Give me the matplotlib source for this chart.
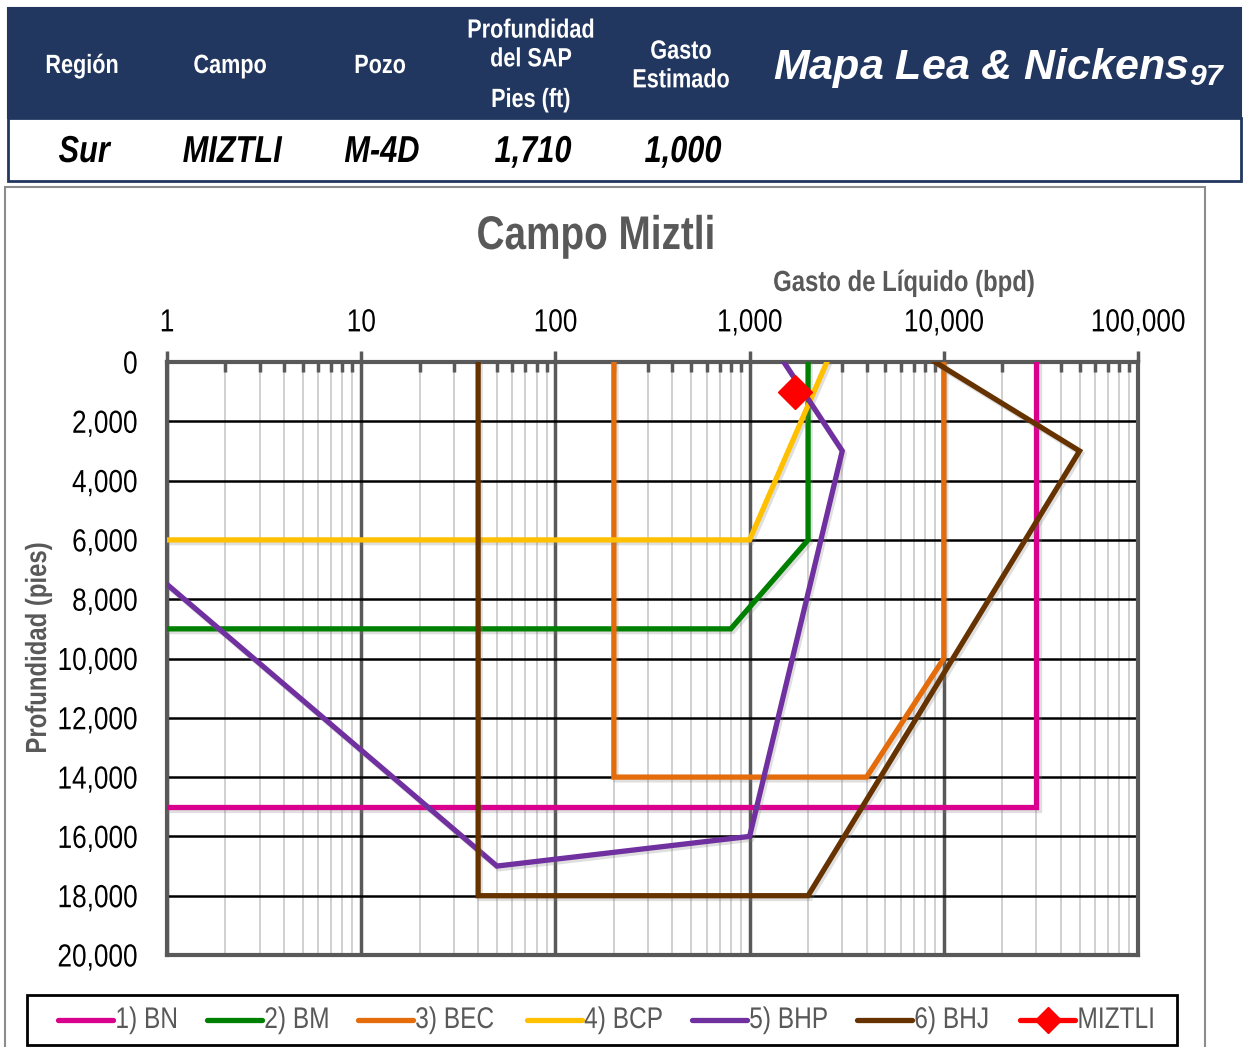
import matplotlib.pyplot as plt
import matplotlib.patheffects as pe
from matplotlib.lines import Line2D
from matplotlib.patches import Rectangle
from matplotlib.transforms import Affine2D, Bbox
from matplotlib.ticker import FixedLocator, LogLocator, NullFormatter

plt.rcParams['font.family'] = ['Liberation Sans', 'DejaVu Sans']

# datos del pozo
header_cols = ['Región', 'Campo', 'Pozo', 'Profundidad\ndel SAP', 'Gasto\nEstimado']
header_unit = 'Pies (ft)'
header_vals = ['Sur', 'MIZTLI', 'M-4D', '1,710', '1,000']

# curvas del mapa de selección (gasto bpd, profundidad pies)
bn_q = [1, 30000, 30000]
bn_d = [15000, 15000, 0]
bm_q = [1, 800, 2000, 2000]
bm_d = [9000, 9000, 6000, 0]
bec_q = [200, 200, 4000, 10000, 10000]
bec_d = [0, 14000, 14000, 10000, 0]
bcp_q = [1, 1000, 2500]
bcp_d = [6000, 6000, 0]
bhp_q = [1, 50, 1000, 3000, 1500]
bhp_d = [7500, 17000, 16000, 3000, 0]
bhj_q = [40, 40, 2000, 50000, 9000]
bhj_d = [0, 18000, 18000, 3000, 0]
pozo_q = [1710]
pozo_d = [1000]

series = [
    ('1) BN', bn_q, bn_d, '#D9008D'),
    ('2) BM', bm_q, bm_d, '#008000'),
    ('3) BEC', bec_q, bec_d, '#E46C0A'),
    ('4) BCP', bcp_q, bcp_d, '#FFC000'),
    ('5) BHP', bhp_q, bhp_d, '#7030A0'),
    ('6) BHJ', bhj_q, bhj_d, '#663300'),
]

x_ticks = [1, 10, 100, 1000, 10000, 100000]
x_labels = ['1', '10', '100', '1,000', '10,000', '100,000']
y_ticks = list(range(0, 20001, 2000))
y_labels = ['{:,}'.format(v) for v in y_ticks]

SX = 0.82  # ancho relativo de la fuente condensada


def _pivot(a0, a1, anchor):
    if anchor == 'left':
        return a0
    if anchor == 'right':
        return a1
    return (a0 + a1) / 2


class Narrow(pe.AbstractPathEffect):
    """Comprime el texto a lo ancho (efecto de fuente condensada)."""

    def __init__(self, sx=SX, anchor='center', vertical=False):
        super().__init__()
        self.sx = sx
        self.anchor = anchor
        self.vertical = vertical

    def draw_path(self, renderer, gc, tpath, affine, rgbFace=None):
        bb = tpath.get_extents(affine)
        if self.vertical:
            c = (bb.y0 + bb.y1) / 2
            extra = Affine2D().translate(0, -c).scale(1, self.sx).translate(0, c)
        else:
            c = _pivot(bb.x0, bb.x1, self.anchor)
            extra = Affine2D().translate(-c, 0).scale(self.sx, 1).translate(c, 0)
        renderer.draw_path(gc, tpath, affine + extra, rgbFace)


def narrow(txt, anchor='center', vertical=False):
    """Aplica el efecto condensado y ajusta la caja del texto a lo dibujado."""
    txt.set_path_effects([Narrow(anchor=anchor, vertical=vertical)])
    orig = txt.get_window_extent

    def extent(renderer=None, dpi=None):
        bb = orig(renderer, dpi)
        if vertical:
            c = (bb.y0 + bb.y1) / 2
            h = (bb.y1 - bb.y0) * SX / 2
            return Bbox([[bb.x0, c - h], [bb.x1, c + h]])
        c = _pivot(bb.x0, bb.x1, anchor)
        return Bbox([[c - (c - bb.x0) * SX, bb.y0], [c + (bb.x1 - c) * SX, bb.y1]])

    txt.get_window_extent = extent
    return txt


W, H = 1243, 1047
fig = plt.figure(figsize=(W / 100, H / 100), dpi=100)

navy = '#22375F'
gray = '#595959'


def fx(px):
    return px / W


def fy(py):
    return 1 - py / H


# tabla de encabezado
fig.patches.append(Rectangle((fx(8), fy(118)), fx(1233), 110 / H, transform=fig.transFigure,
                             facecolor=navy, edgecolor=navy, lw=1.5))
fig.patches.append(Rectangle((fx(8), fy(181)), fx(1233), 63 / H, transform=fig.transFigure,
                             facecolor='white', edgecolor=navy, lw=2))

col_x = [82, 230, 380, 531, 681]
col_y = [66, 66, 66, 45, 66]
for cx, cy, txt in zip(col_x, col_y, header_cols):
    narrow(fig.text(fx(cx), fy(cy), txt, color='white', fontsize=19, weight='bold',
                    ha='center', va='center', linespacing=1.25))
narrow(fig.text(fx(col_x[3]), fy(100), header_unit, color='white', fontsize=19, weight='bold',
                ha='center', va='center'))
for cx, val in zip(col_x, header_vals):
    narrow(fig.text(fx(cx + 2), fy(152), val, color='black', fontsize=27, weight='bold',
                    style='italic', ha='center', va='center'))

fig.text(fx(773), fy(68), r'Mapa Lea & Nickens$_{\mathregular{97}}$', color='white', fontsize=31,
         style='italic', weight='bold', ha='left', va='center')

# marco del gráfico
fig.patches.append(Rectangle((fx(5), fy(1060)), fx(1200), 873 / H, transform=fig.transFigure,
                             facecolor='none', edgecolor='#8C8C8C', lw=1.5))

narrow(fig.text(fx(596), fy(237), 'Campo Miztli', color=gray, fontsize=34, weight='bold',
                ha='center', va='center'))
narrow(fig.text(fx(904), fy(283), 'Gasto de Líquido (bpd)', color=gray, fontsize=21,
                weight='bold', ha='center', va='center'))
narrow(fig.text(fx(38), fy(648), 'Profundidad (pies)', color=gray, fontsize=21, weight='bold',
                ha='center', va='center', rotation=90), vertical=True)

ax = fig.add_axes([fx(167), fy(955), fx(1138 - 167), (955 - 362) / H])
ax.set_xscale('log')
ax.set_xlim(1, 100000)
ax.set_ylim(20000, 0)

shadow = [pe.SimpleLineShadow(offset=(1.5, -2), shadow_color='gray', alpha=0.25), pe.Normal()]
for name, q, d, c in series:
    ax.plot(q, d, color=c, lw=3.8, solid_joinstyle='miter', path_effects=shadow, zorder=3)
ax.plot(pozo_q, pozo_d, color='#FF0000', lw=0, marker='D', markersize=17,
        markeredgecolor='#FF0000', zorder=4)

ax.xaxis.tick_top()
ax.xaxis.set_major_locator(FixedLocator(x_ticks))
ax.set_xticklabels(x_labels)
ax.xaxis.set_minor_locator(LogLocator(base=10, subs=range(2, 10), numticks=20))
ax.xaxis.set_minor_formatter(NullFormatter())
ax.set_yticks(y_ticks)
ax.set_yticklabels(y_labels)

ax.tick_params(axis='x', which='major', direction='out', length=8, width=2.5, color=gray,
               labelsize=23, pad=9, labelcolor='black')
ax.tick_params(axis='x', which='minor', direction='in', length=7, width=2.5, color=gray)
ax.tick_params(axis='y', which='major', length=0, labelsize=23, pad=21, labelcolor='black')

for t in ax.xaxis.get_major_ticks():
    narrow(t.label2)
for t in ax.yaxis.get_major_ticks():
    narrow(t.label1, anchor='right')

ax.set_axisbelow(True)
ax.grid(which='major', axis='x', color=gray, lw=2.5)
ax.grid(which='minor', axis='x', color='#C8C8C8', lw=1.2)
ax.grid(which='major', axis='y', color='black', lw=1.8)
for sp in ax.spines.values():
    sp.set_color(gray)
    sp.set_linewidth(3)

# leyenda
fig.patches.append(Rectangle((fx(27), fy(1045)), fx(1150), 50 / H, transform=fig.transFigure,
                             facecolor='white', edgecolor='black', lw=2))
leg_x = [58, 207, 358, 527, 692, 857, 1020]
leg_items = [(name, c) for name, q, d, c in series] + [('MIZTLI', '#FF0000')]
for lx, (name, c) in zip(leg_x, leg_items):
    fig.add_artist(Line2D([fx(lx), fx(lx + 55)], [fy(1020), fy(1020)], color=c, lw=3.8,
                          solid_capstyle='round', transform=fig.transFigure))
    narrow(fig.text(fx(lx + 57), fy(1020), name, color=gray, fontsize=21.5, ha='left',
                    va='center'), anchor='left')
fig.add_artist(Line2D([fx(1020 + 27.5)], [fy(1020)], color='#FF0000', marker='D', markersize=13,
                      lw=0, transform=fig.transFigure))

fig.savefig('out.png', dpi=100)
